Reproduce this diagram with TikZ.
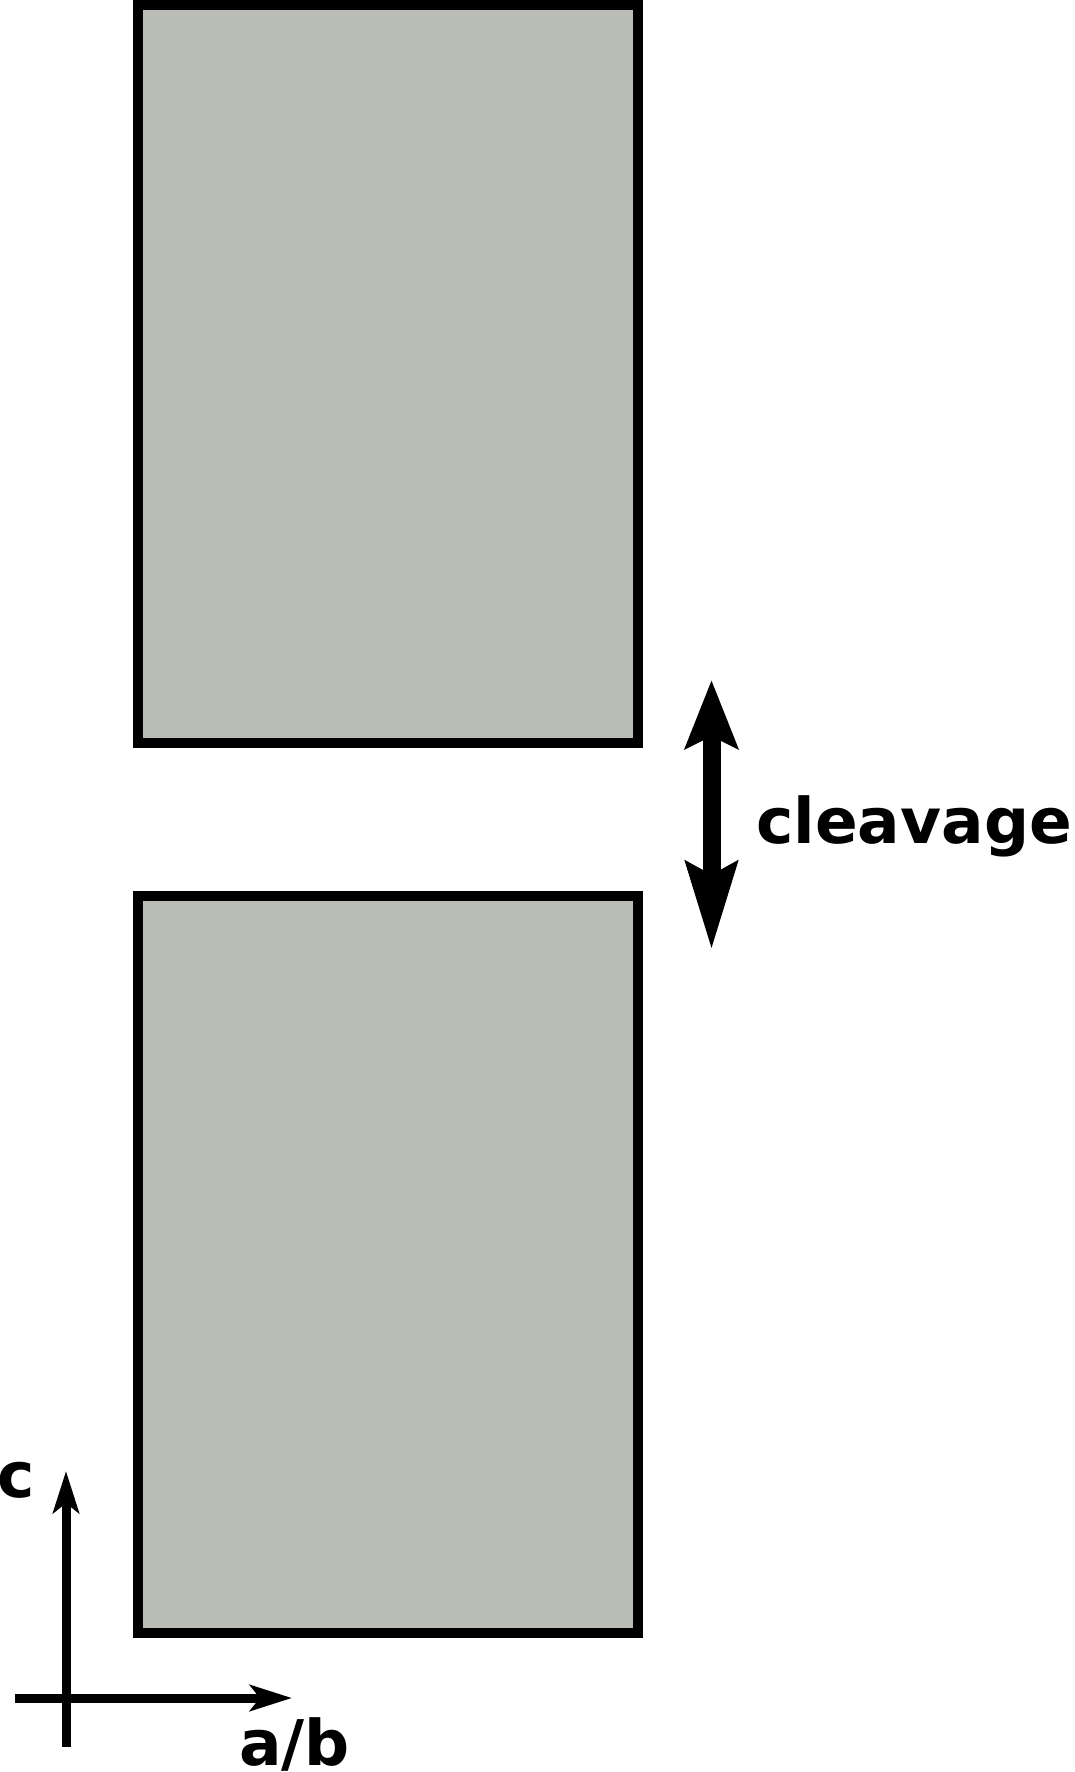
\documentclass[tikz,border=0pt]{standalone}
\usepackage{fontspec}
\setmainfont{DejaVu Sans}
\usetikzlibrary{arrows.meta}
\definecolor{slab}{RGB}{186,189,182}
\tikzset{
  block/.style={draw=black,fill=slab,line width=10pt,line join=miter},
  axis/.style={line width=9pt,-{Stealth[length=42pt,width=26pt,inset=10pt]}},
  lab/.style={inner sep=0pt,font=\fontsize{63}{75}\selectfont\bfseries}
}
\begin{document}
\begin{tikzpicture}[x=1pt,y=-1pt]
%%
\useasboundingbox (0,0) rectangle (1075,1772);
\draw [block] (138,5) rectangle (638,743);
\draw [block] (138,896) rectangle (638,1633);
\coordinate (ctop) at (711.5,680);
\coordinate (cbot) at (711.5,950);
\draw [line width=18pt,{Stealth[length=68pt,width=52pt,inset=12pt]}-{Stealth[length=87pt,width=50pt,inset=12pt]}] (ctop) -- (cbot);
\node (cleave) at (756,843) [lab,anchor=base west] {cleavage};
%
\coordinate (cend) at (66,1471);
\coordinate (abend) at (292,1698);
\draw [axis] (66,1747) -- (cend);
\draw [axis] (15,1698) -- (abend);
\node (clab) at (-3,1497) [lab,anchor=base west] {c};
\node (ablab) at (239,1765) [lab,anchor=base west] {a/b};
%
\end{tikzpicture}
\end{document}
